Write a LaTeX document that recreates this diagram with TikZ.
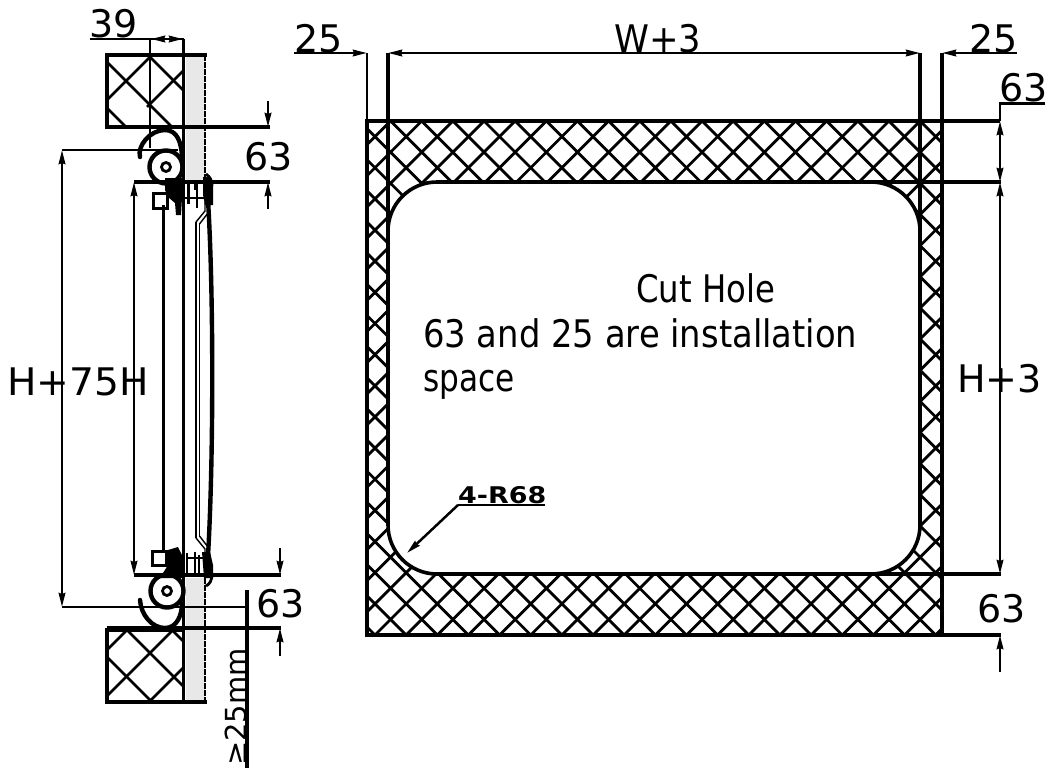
\documentclass[tikz,border=0pt]{standalone}
\usepackage{fontspec}
\setmainfont{DejaVu Sans}
\usetikzlibrary{arrows.meta}
\tikzset{
  dimtip/.tip={Stealth[length=14pt,width=6.5pt,inset=1pt]},
  dimline/.style={line width=2.5pt},
  heavy/.style={line width=3.2pt},
  mech/.style={line width=4.4pt},
  hatchline/.style={line width=2.8pt},
  lbl/.style={inner sep=0pt,font=\fontsize{38}{38}\selectfont,anchor=base west},
}
\begin{document}
\begin{tikzpicture}[x=1pt,y=-1pt]
\useasboundingbox (0,0) rectangle (1059,779);
\fill[white] (0,0) rectangle (1059,779);
% ---- wall strip
\fill[black!9] (186,56) rectangle (205,180);
\fill[black!9] (186,578) rectangle (205,701);
\draw[line width=2.4pt,dash pattern=on 6pt off 1pt] (205,55) -- (205,182) (205,578) -- (205,702);
\draw[heavy] (105.5,55) -- (207,55) (105.5,702) -- (207,702);
% ---- top section
\draw[heavy] (107,55) rectangle (183.5,127);
\begin{scope}
\clip (107,55) rectangle (183.5,127);
\foreach \c in {207,254,300} \draw[hatchline] (\c-107,107) -- (\c-20,20);
\foreach \d in {45,-1,93} \draw[hatchline] (107+0,107-\d) -- (260,260-\d);
\end{scope}
% ---- bottom section
\draw[heavy] (107,630) rectangle (183.5,702);
\begin{scope}
\clip (107,630) rectangle (183.5,702);
\foreach \c in {757,803,851} \draw[hatchline] (90,\c-90) -- (200,\c-200);
\foreach \d in {-503,-550,-458} \draw[hatchline] (90,90-\d) -- (200,200-\d);
\end{scope}
% ---- section dividers
\draw[heavy] (107,127) -- (270,127);
\draw[heavy] (107,628) -- (281,628);
\draw[line width=2.8pt] (150,39) -- (150,148);
\draw[line width=3pt] (183.5,39) -- (183.5,182);
\draw[line width=3pt] (183.5,575) -- (183.5,702);
% ---- door leaf
\draw[line width=3pt] (163,205) -- (163,552);
\draw[line width=3pt] (183.5,182) -- (183.5,576);
\draw[line width=1.6pt] (196,222) -- (196,538);
\draw[line width=1.6pt] (199.500,224) -- (199.500,536);
\draw[line width=1.4pt] (196,222) -- (205,211) -- (205,202);
\draw[line width=1.4pt] (199.500,224) -- (208,213) -- (208,202);
\draw[line width=1.4pt] (196,538) -- (205,549) -- (205,556);
\draw[line width=1.4pt] (199.500,536) -- (208,547) -- (208,556);
\draw[line width=4.4pt] (207,185) .. controls (214,280) and (214,470) .. (207,572);
% ---- top mechanism
\draw[mech] (166,167) circle (16.5);
\draw[line width=2.8pt] (166,167) circle (4.5);
\draw[mech,line cap=round] (140,157) .. controls (137,146) and (150,130) .. (165,130)
   .. controls (177,130) and (182,142) .. (182,160);
\draw[line width=2.8pt] (62,150) -- (178,150);
\fill (165,178) -- (182,178) -- (182,198) -- (181,215) -- (176,215) -- (175,203) -- (168,197) -- (165,190) -- cycle;
\fill (203,177) -- (209,177) -- (213,186) -- (213,205) -- (205,205) -- (203,195) -- cycle;
\draw[line width=3pt] (153.500,193.500) rectangle (167,208);
\draw[line width=2.8pt] (188.500,183) -- (188.500,204) (195,184) -- (195,190) (197,184) -- (197,208) (184,198) -- (205,198);
\draw[line width=2.8pt] (206,174) .. controls (210,177) and (212,180) .. (212,186);
% ---- bottom mechanism
\draw[mech] (167,591) circle (16.5);
\draw[line width=2.8pt] (167,591) circle (4.5);
\draw[mech,line cap=round] (140,600) .. controls (141,615) and (152,628) .. (165,628)
   .. controls (177,628) and (182,615) .. (182,603);
\fill (168,550) -- (178,547) -- (182,555) -- (182,578) -- (160,578) -- (168,565) -- cycle;
\fill (202,552) -- (210,552) -- (213,565) -- (213,578) -- (204,578) -- cycle;
\draw[line width=3pt] (152.500,551) rectangle (166,565);
\draw[line width=2.8pt] (187,553) -- (187,575) (195,552) -- (195,575) (199,555) -- (199,575) (187,558) -- (206,558);
\draw[line width=2.8pt] (206,586) .. controls (210,584) and (212,580) .. (212,574);
% ---- left dimensions
\draw[dimline] (90,39) -- (183.5,39);
\draw[dimline,{dimtip}-{dimtip}] (151,39) -- (183,39);
\draw[dimline,{dimtip}-{dimtip}] (62,150) -- (62,607);
\draw[line width=2.8pt] (62,607) -- (247,607);
\draw[dimline,{dimtip}-{dimtip}] (134,182) -- (134,575);
\draw[heavy] (134,182) -- (270,182);
\draw[heavy] (134,575) -- (281,575);
\draw[dimline,-{dimtip}] (268,101) -- (268,127);
\draw[dimline,-{dimtip}] (268,209) -- (268,182);
\draw[dimline,-{dimtip}] (280,548) -- (280,575);
\draw[dimline,-{dimtip}] (280,656) -- (280,628);
\draw[line width=3.4pt] (247,590) -- (247,768);
% ---- cut hole panel: hatch
\begin{scope}
\clip (367,121) rectangle (942,635);
\foreach \k in {0,...,36} {
  \pgfmathsetmacro{\c}{1010+31.15*(\k-16)}
  \draw[hatchline] (300,\c-300) -- (1000,\c-1000);
  \pgfmathsetmacro{\d}{-260+31.15*\k}
  \draw[hatchline] (300,300-\d) -- (1000,1000-\d);
}
\end{scope}
\draw[line width=3.8pt,line join=miter] (367,121) rectangle (942,635);
\draw[line width=3.6pt,fill=white,rounded corners=49pt] (388,182) rectangle (920,574);
% ---- cut hole panel: dimensions
\draw[dimline,-{dimtip}] (294,53) -- (367,53);
\draw[dimline,-{dimtip}] (1017,53) -- (942,53);
\draw[dimline,{dimtip}-{dimtip}] (388,53) -- (920,53);
\draw[dimline] (367,53) -- (367,121);
\draw[heavy] (942,53) -- (942,121);
\draw[heavy] (388,53) -- (388,232);
\draw[heavy] (920,53) -- (920,232);
\draw[heavy] (942,121) -- (1000,121);
\draw[heavy] (871,182) -- (1001,182);
\draw[heavy] (871,574) -- (1001,574);
\draw[heavy] (942,635) -- (1001,635);
\draw[dimline] (1045,103.500) -- (1000,103.500) -- (1000,121);
\draw[dimline,{dimtip}-{dimtip}] (1000,121) -- (1000,182);
\draw[dimline,{dimtip}-{dimtip}] (1000,182) -- (1000,574);
\draw[dimline,-{dimtip}] (1000,672) -- (1000,635);
\draw[dimline,-{dimtip}] (458,505) -- (407,553);
\draw[dimline] (458,505) -- (545,505);
% ---- labels
\node[lbl] (t39) at (89,37) {39};
\node[lbl] (t25a) at (294,52) {25};
\node[lbl] (tw) at (614,52) {\scalebox{.93}[1]{W+3}};
\node[lbl] (t25b) at (969,52) {25};
\node[lbl] (t63a) at (999,101) {63};
\node[lbl] (t63b) at (244,170) {63};
\node[lbl] (th75) at (7,395) {\scalebox{1.03}[1]{H+75H}};
\node[lbl] (tcut) at (636,302) {\scalebox{.85}[1]{Cut Hole}};
\node[lbl] (tl1) at (423,347) {\scalebox{.89}[1]{63 and 25 are installation}};
\node[lbl] (tl2) at (423,391) {\scalebox{.82}[1]{space}};
\node[lbl] (th3) at (957,392) {H+3};
\node[lbl,font=\fontsize{23}{23}\selectfont\bfseries] (tr68) at (458,503) {\scalebox{1.17}[1]{4-R68}};
\node[lbl] (t63c) at (977,622) {63};
\node[lbl] (t63d) at (256,617) {63};
\node[lbl,rotate=90,font=\fontsize{29}{29}\selectfont] (t25mm) at (246,766) {≥25mm};
\end{tikzpicture}
\end{document}
